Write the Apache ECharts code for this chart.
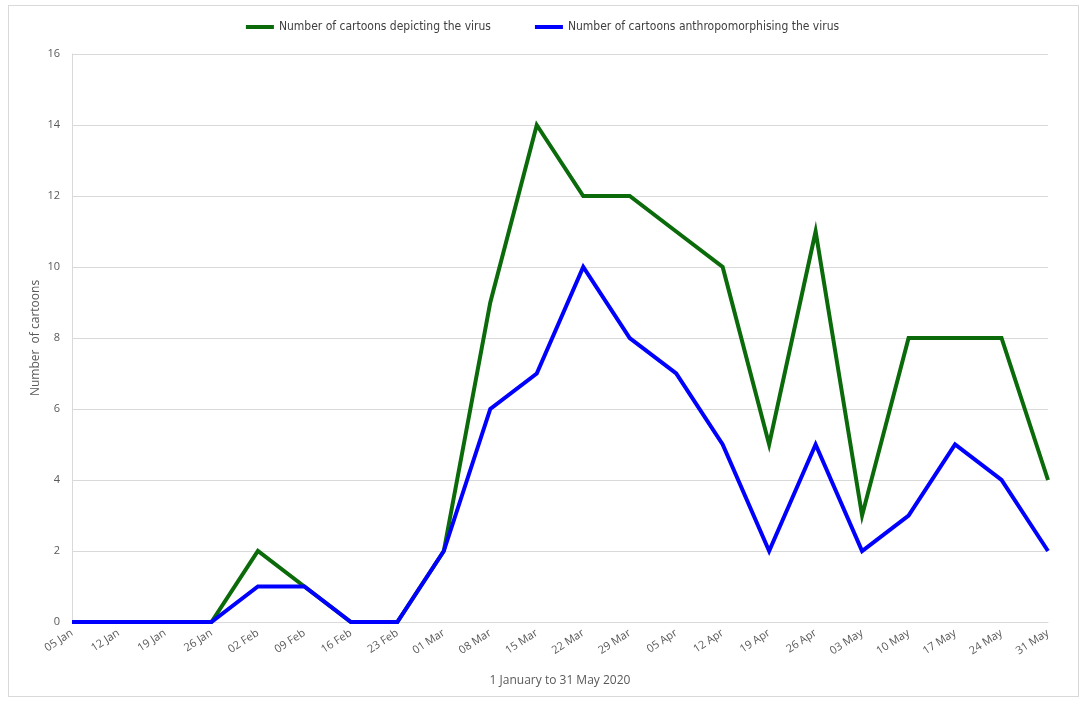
<!DOCTYPE html>
<html>
<head>
<meta charset="utf-8">
<script src="https://cdn.jsdelivr.net/npm/echarts@6/dist/echarts.min.js"></script>
<style>
html,body{margin:0;padding:0;background:#fff;}
#frame{position:absolute;left:8px;top:5px;width:1071px;height:692px;border:1px solid #d9d9d9;box-sizing:border-box;}
#chart{position:absolute;left:0;top:0;width:1085px;height:701px;}
</style>
</head>
<body>
<div id="frame"></div>
<div id="chart"></div>
<script>
const categories = ['05 Jan','12 Jan','19 Jan','26 Jan','02 Feb','09 Feb','16 Feb','23 Feb','01 Mar','08 Mar','15 Mar','22 Mar','29 Mar','05 Apr','12 Apr','19 Apr','26 Apr','03 May','10 May','17 May','24 May','31 May'];
const depicting = [0,0,0,0,2,1,0,0,2,9,14,12,12,11,10,5,11,3,8,8,8,4];
const anthropomorphising = [0,0,0,0,1,1,0,0,2,6,7,10,8,7,5,2,5,2,3,5,4,2];
const seriesNames = ['Number of cartoons depicting the virus','Number of cartoons anthropomorphising the virus'];
const yTitle = 'Number  of cartoons';

const chart = echarts.init(document.getElementById('chart'), null, {renderer:'canvas'});
const labelFont = "'Open Sans', 'Noto Sans', sans-serif";
chart.setOption({
  animation:false,
  backgroundColor:'transparent',
  legend:{
    top:16,
    left:'center',
    itemWidth:28,
    itemHeight:4,
    itemGap:44,
    icon:'rect',
    textStyle:{fontFamily:"'Liberation Sans Narrow','DejaVu Sans Condensed','Roboto Condensed',sans-serif",fontSize:12,color:'#404040'},
    data:seriesNames
  },
  grid:{left:72,right:37,top:54,bottom:79,containLabel:false},
  graphic:[{
    type:'text',
    x:36, y:338,
    rotation:Math.PI/2,
    style:{text:yTitle,fontFamily:labelFont,fontSize:12,fill:'#595959',align:'center',verticalAlign:'middle'}
  }],
  xAxis:{
    type:'category',
    data:categories,
    boundaryGap:false,
    name:'1 January to 31 May 2020',
    nameLocation:'middle',
    nameGap:53,
    nameTextStyle:{fontFamily:labelFont,fontSize:12,color:'#595959'},
    axisLine:{show:true,lineStyle:{color:'#d9d9d9',width:1}},
    axisTick:{show:false},
    axisLabel:{rotate:33,interval:0,fontFamily:labelFont,fontSize:11,color:'#595959',margin:10},
    splitLine:{show:false}
  },
  yAxis:{
    type:'value',
    min:0,max:16,interval:2,
    axisLine:{show:true,lineStyle:{color:'#d9d9d9',width:1}},
    axisTick:{show:false},
    axisLabel:{fontFamily:labelFont,fontSize:11,color:'#595959',margin:12},
    splitLine:{show:true,lineStyle:{color:'#d9d9d9',width:1}}
  },
  series:[
    {name:seriesNames[0],type:'line',data:depicting,showSymbol:false,symbol:'none',
     lineStyle:{color:'#0b6b0b',width:4,join:'miter'},itemStyle:{color:'#0b6b0b'}},
    {name:seriesNames[1],type:'line',data:anthropomorphising,showSymbol:false,symbol:'none',
     lineStyle:{color:'#0000ff',width:4,join:'miter'},itemStyle:{color:'#0000ff'}}
  ]
});
</script>
</body>
</html>
